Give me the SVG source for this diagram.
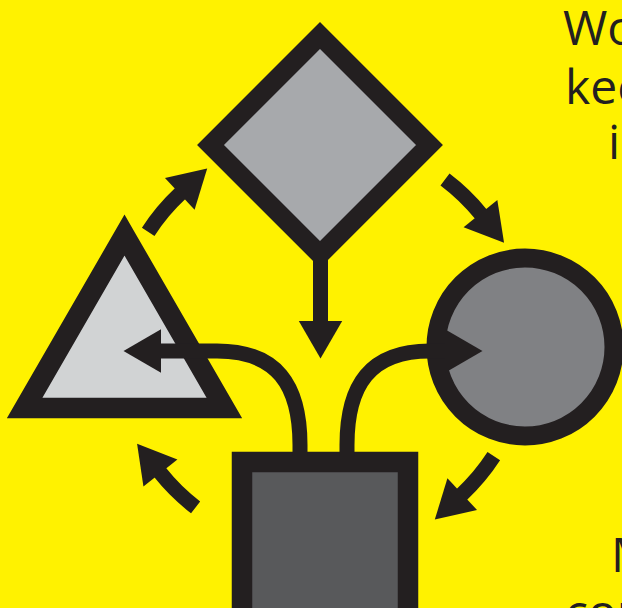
<svg xmlns="http://www.w3.org/2000/svg" width="622" height="608" viewBox="0 0 622 608">
  <style>
    .node { stroke: #231f20; stroke-linejoin: miter; stroke-miterlimit: 10; }
    .shaft { fill: none; stroke: #231f20; stroke-width: 15; stroke-linecap: butt; }
    .txt { font-family: "Open Sans", "Noto Sans", sans-serif; font-size: 48px; fill: #231f20; }
  </style>
  <defs>
    <marker id="ah" markerUnits="userSpaceOnUse" markerWidth="40" markerHeight="46" viewBox="0 -23 40 46" refX="1" refY="0" orient="auto" overflow="visible">
      <path d="M0,-21.7 L37.5,0 L0,21.7 Z" fill="#231f20"/>
    </marker>
  </defs>
  <rect x="0" y="0" width="622" height="608" fill="#fff200"/>

  <g id="diamond">
    <path class="node" d="M320,35.5 L429.5,145 L320,254.5 L210.5,145 Z" fill="#a7a9ac" stroke-width="19"/>
  </g>
  <g id="triangle">
    <path class="node" d="M124.5,235.1 L224.4,408 L24.6,408 Z" fill="#d1d3d4" stroke-width="20.5"/>
  </g>
  <g id="circle">
    <circle class="node" cx="525" cy="347" r="89" fill="#808184" stroke-width="19"/>
  </g>
  <g id="rectangle">
    <rect class="node" x="242" y="462" width="166" height="240" fill="#58595b" stroke-width="20.5"/>
  </g>

  <g id="connectors">
    <path class="shaft" d="M148.2,231.8 A206,206 0 0 1 180.5,193.3" marker-end="url(#ah)"/>
    <path class="shaft" d="M445.0,179.5 A206,206 0 0 1 481.1,214.4" marker-end="url(#ah)"/>
    <path class="shaft" d="M493.8,456.2 A206,206 0 0 1 461.5,494.7" marker-end="url(#ah)"/>
    <path class="shaft" d="M195.6,507.4 A206,206 0 0 1 159.8,472.2" marker-end="url(#ah)"/>
    <path class="shaft" d="M320.5,255 L320.5,322" marker-end="url(#ah)"/>
    <path class="shaft" d="M300,456 L300,445 C300,385 277,351 217,351 L160,351" marker-end="url(#ah)"/>
    <path class="shaft" d="M347,456 L347,445 C347,385 370,351 430,351 L446,351" marker-end="url(#ah)"/>
  </g>

  <g id="text">
    <text class="txt" x="563" y="45">Wo</text>
    <text class="txt" x="565" y="104">kee</text>
    <text class="txt" x="608" y="159">i</text>
    <text class="txt" x="611" y="572">M</text>
    <text class="txt" x="565" y="629">con</text>
  </g>
</svg>
